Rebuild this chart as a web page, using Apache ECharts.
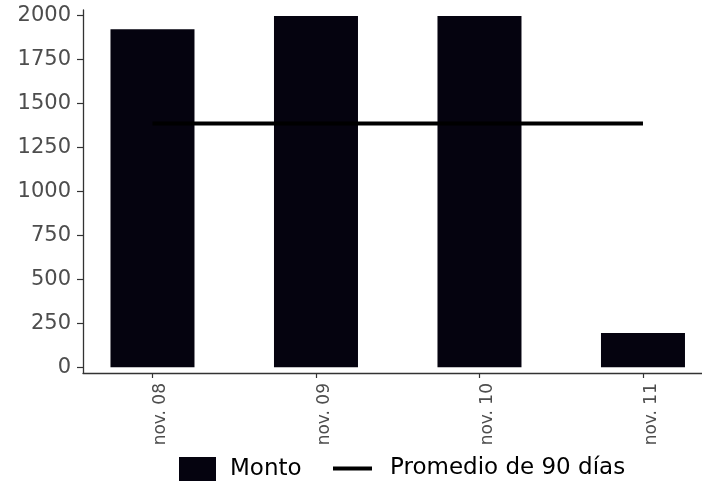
<!DOCTYPE html>
<html>
<head>
<meta charset="utf-8">
<script src="https://cdn.jsdelivr.net/npm/echarts@6/dist/echarts.min.js"></script>
<style>
html,body{margin:0;padding:0;background:#fff;}
#chart{width:702px;height:482px;}
</style>
</head>
<body>
<div id="chart"></div>
<script>
const categories = ["nov. 08", "nov. 09", "nov. 10", "nov. 11"];
const montoValues = [1920, 1996, 1996, 195];
const promedioValues = [1385, 1385, 1385, 1385];
const yTickValues = [0, 250, 500, 750, 1000, 1250, 1500, 1750, 2000];
const xTickIndex = [0, 1, 2, 3];

const FONT = "DejaVu Sans";
const chart = echarts.init(document.getElementById('chart'), null, {renderer: 'canvas'});

const option = {
  animation: false,
  backgroundColor: '#ffffff',
  grid: {left: 83, right: 0, top: 10, bottom: 109},
  legend: [
    {
      data: ['Monto'],
      left: 179, top: 457,
      padding: 0,
      icon: 'rect',
      itemWidth: 37, itemHeight: 24,
      textStyle: {fontFamily: FONT, fontSize: 23, color: '#000', padding: [0, 0, 0, 9]}
    },
    {
      data: ['Promedio de 90 días'],
      left: 333, top: 457,
      padding: 0,
      icon: 'rect',
      itemWidth: 39, itemHeight: 4,
      itemStyle: {color: '#000'},
      lineStyle: {width: 0},
      textStyle: {fontFamily: FONT, fontSize: 23, color: '#000', padding: [0, 0, 0, 13]}
    }
  ],
  xAxis: {
    type: 'value',
    min: -0.425,
    max: 3.361,
    axisLine: {show: true, onZero: false, lineStyle: {color: '#333', width: 1.3}},
    axisTick: {show: true, length: 5, customValues: xTickIndex, lineStyle: {color: '#333', width: 1.2}},
    splitLine: {show: false},
    axisLabel: {
      customValues: xTickIndex,
      rotate: 90,
      margin: 10,
      verticalAlign: 'top',
      fontFamily: FONT,
      fontSize: 17,
      color: '#4d4d4d',
      formatter: function (v) { return categories[Math.round(v)]; }
    }
  },
  yAxis: {
    type: 'value',
    min: -32.4,
    max: 2030,
    axisLine: {show: true, onZero: false, lineStyle: {color: '#333', width: 1.3}},
    axisTick: {show: true, length: 6, customValues: yTickValues, lineStyle: {color: '#333', width: 1.2}},
    splitLine: {show: false},
    axisLabel: {
      customValues: yTickValues,
      margin: 12,
      fontFamily: FONT,
      fontSize: 21,
      color: '#4d4d4d',
      formatter: function (v) { return String(v); }
    }
  },
  series: [
    {
      name: 'Monto',
      type: 'bar',
      barWidth: 84,
      itemStyle: {color: '#05030f'},
      data: montoValues.map(function (v, i) { return [i, v]; }),
      z: 2
    },
    {
      name: 'Promedio de 90 días',
      type: 'line',
      symbol: 'none',
      lineStyle: {color: '#000', width: 4},
      itemStyle: {color: '#000'},
      data: promedioValues.map(function (v, i) { return [i, v]; }),
      z: 3
    }
  ]
};
chart.setOption(option);
</script>
</body>
</html>
